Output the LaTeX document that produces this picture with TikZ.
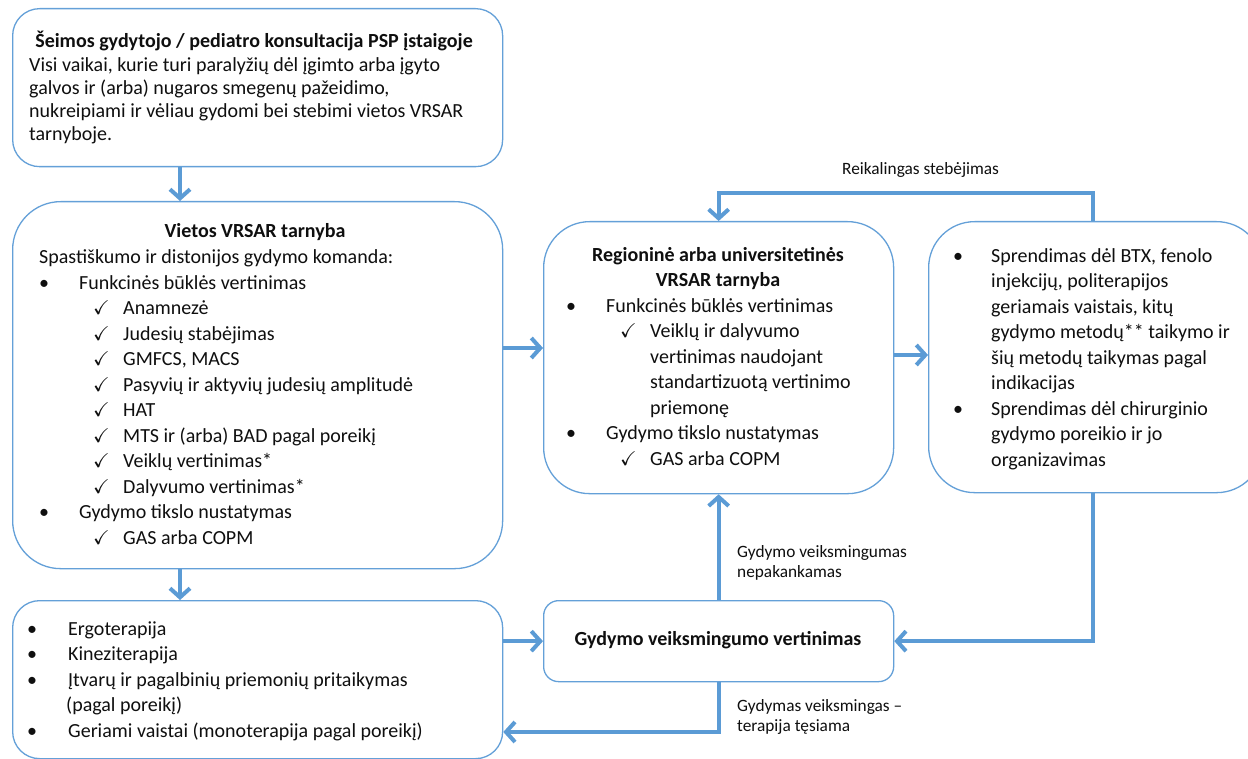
\documentclass[tikz,border=0pt]{standalone}
\usepackage{amssymb}
\usepackage{fontspec}
\setmainfont{Carlito}
\usetikzlibrary{arrows.meta}
\definecolor{boxblue}{RGB}{100,160,216}
\definecolor{arrowblue}{RGB}{91,155,213}
\definecolor{txt}{RGB}{15,15,15}
\newcommand{\bodyfont}{\fontsize{20}{25.5}\selectfont}
\newcommand{\topfont}{\fontsize{20}{23}\selectfont}
\newcommand{\lblfont}{\fontsize{17.3}{20.5}\selectfont}
\newcommand{\bulx}[2]{\makebox[#1][l]{\textbullet}#2}
\newcommand{\chk}{{\fontsize{20}{20}\selectfont$\checkmark$}}
\newcommand{\chkx}[3]{\hspace*{#1}\makebox[#2][l]{\chk}#3}
\tikzset{
  box/.style={draw=boxblue, line width=1.3pt, fill=white, anchor=north west, inner sep=0pt},
  conn/.style={draw=arrowblue, line width=4pt, -{Straight Barb[length=9pt,width=20pt]}},
  body/.style={anchor=north west, inner sep=0pt, align=left, text=txt, font=\bodyfont},
  ttl/.style={inner sep=0pt, text=txt, font=\bodyfont\bfseries},
  lbl/.style={anchor=north west, inner sep=0pt, align=left, text=txt, font=\lblfont}
}
\begin{document}
\begin{tikzpicture}[x=1pt,y=-1pt]
\useasboundingbox (0,0) rectangle (1248,759);
\clip (0,0) rectangle (1248,759);
\fill[white] (0,0) rectangle (1248,759);

% boxes
\node[box, rounded corners=27pt, minimum width=490pt, minimum height=158pt] (top) at (12,8) {};
\node[box, rounded corners=48pt, minimum width=490pt, minimum height=367pt] (vietos) at (12,201) {};
\node[box, rounded corners=27pt, minimum width=490pt, minimum height=158pt] (bl) at (12,600) {};
\node[box, rounded corners=46pt, minimum width=350pt, minimum height=272pt] (reg) at (543,221) {};
\node[box, rounded corners=46pt, minimum width=334pt, minimum height=271pt] (rb) at (928,221) {};
\node[box, rounded corners=15pt, minimum width=350pt, minimum height=81pt] (gyd) at (543,600) {};

% top box text
\node[ttl, anchor=base, font=\topfont\bfseries] (toptitle) at (254,48) {Šeimos gydytojo / pediatro konsultacija PSP įstaigoje};
\node[body, font=\topfont] (topbody) at (29,54.9) {\strut Visi vaikai, kurie turi paralyžių dėl įgimto arba įgyto\\
galvos ir (arba) nugaros smegenų pažeidimo,\\
nukreipiami ir vėliau gydomi bei stebimi vietos VRSAR\\
tarnyboje.};

% vietos text
\node[ttl, anchor=base] (vtitle) at (255,238) {Vietos VRSAR tarnyba};
\node[body] (vbody) at (39,245.65) {\strut Spastiškumo ir distonijos gydymo komanda:\\
\bulx{40pt}{Funkcinės būklės vertinimas}\\
\chkx{54pt}{30pt}{Anamnezė}\\
\chkx{54pt}{30pt}{Judesių stabėjimas}\\
\chkx{54pt}{30pt}{GMFCS, MACS}\\
\chkx{54pt}{30pt}{Pasyvių ir aktyvių judesių amplitudė}\\
\chkx{54pt}{30pt}{HAT}\\
\chkx{54pt}{30pt}{MTS ir (arba) BAD pagal poreikį}\\
\chkx{54pt}{30pt}{Veiklų vertinimas*}\\
\chkx{54pt}{30pt}{Dalyvumo vertinimas*}\\
\bulx{40pt}{Gydymo tikslo nustatymas}\\
\chkx{54pt}{30pt}{GAS arba COPM}};

% regional text
\node[ttl, anchor=north, align=center] (rtitle) at (718,243.15) {\strut Regioninė arba universitetinės\\VRSAR tarnyba};
\node[body] (rbody) at (566,294.15) {\strut\bulx{40pt}{Funkcinės būklės vertinimas}\\
\chkx{54pt}{30pt}{Veiklų ir dalyvumo}\\
\hspace*{84pt}vertinimas naudojant\\
\hspace*{84pt}standartizuotą vertinimo\\
\hspace*{84pt}priemonę\\
\bulx{40pt}{Gydymo tikslo nustatymas}\\
\chkx{54pt}{30pt}{GAS arba COPM}};

% right box text
\node[body] (rbbody) at (953,244.15) {\strut\bulx{38pt}{Sprendimas dėl BTX, fenolo}\\
\hspace*{38pt}injekcijų, politerapijos\\
\hspace*{38pt}geriamais vaistais, kitų\\
\hspace*{38pt}gydymo metodų** taikymo ir\\
\hspace*{38pt}šių metodų taikymas pagal\\
\hspace*{38pt}indikacijas\\
\bulx{38pt}{Sprendimas dėl chirurginio}\\
\hspace*{38pt}gydymo poreikio ir jo\\
\hspace*{38pt}organizavimas};

% bottom-left text
\node[body] (blbody) at (27,617.15) {\strut\bulx{41pt}{Ergoterapija}\\
\bulx{41pt}{Kineziterapija}\\
\bulx{41pt}{Įtvarų ir pagalbinių priemonių pritaikymas}\\
\hspace*{39pt}(pagal poreikį)\\
\bulx{41pt}{Geriami vaistai (monoterapija pagal poreikį)}};

% gydymo text
\node[ttl, anchor=base] (gydtext) at (718,645) {Gydymo veiksmingumo vertinimas};

% connectors
\coordinate (cl) at (180,0);
\coordinate (ck) at (1093,0);
\coordinate (y1) at (0,348);
\coordinate (y2) at (0,355);
\coordinate (y3) at (0,732);
\draw[conn] (top.south -| cl) -- (vietos.north -| cl);
\draw[conn] (vietos.south -| cl) -- (bl.north -| cl);
\draw[conn] (vietos.east |- y1) -- (reg.west |- y1);
\draw[conn] (reg.east |- y2) -- (rb.west |- y2);
\draw[conn] (rb.north -| ck) -- ++(0,-28) -| (reg.north);
\draw[conn] (rb.south -| ck) |- (gyd.east);
\draw[conn] (bl.east |- gyd.east) -- (gyd.west);
\draw[conn] (gyd.north) -- (reg.south);
\draw[conn] (gyd.south) |- (bl.east |- y3);

% labels
\node[lbl, anchor=base west] (lreik) at (842,175) {Reikalingas stebėjimas};
\node[lbl] (lnep) at (737,542.65) {\strut Gydymo veiksmingumas\\nepakankamas};
\node[lbl] (lveik) at (737,696.65) {\strut Gydymas veiksmingas –\\terapija tęsiama};
\end{tikzpicture}
\end{document}
